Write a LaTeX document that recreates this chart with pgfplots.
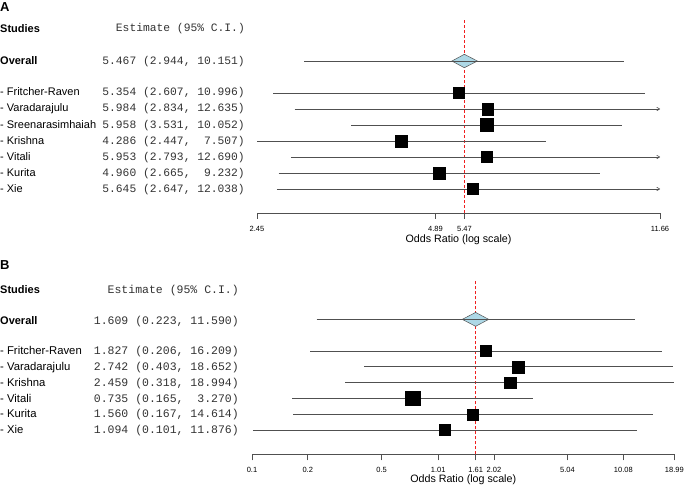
\documentclass[border=0pt]{standalone}
\usepackage{pgfplots}
\pgfplotsset{compat=1.18}
\usepackage{fontspec}
\setmainfont{Liberation Sans}
\newfontfamily\monofont{Liberation Mono}
\usetikzlibrary{arrows.meta}
\definecolor{cil}{RGB}{80,80,80}
\definecolor{diam}{RGB}{173,216,230}
\definecolor{txtgray}{RGB}{50,50,50}
\definecolor{refred}{RGB}{240,30,30}
\pgfplotsset{
  ci/.style={cil, line width=0.6pt, forget plot},
  ciarr/.style={cil, line width=0.6pt, forget plot, -{To[length=3.5pt,width=4pt]}},
  sq/.style={only marks, mark=square*, mark options={fill=black, draw=black, line width=0.3pt}, forget plot},
  refl/.style={draw=refred, color=refred, dash pattern=on 3pt off 2pt, line width=0.8pt, forget plot},
  forestaxis/.style={
    scale only axis, anchor=south west,
    axis x line*=bottom, axis y line=none,
    tick align=outside, major tick length=6pt, minor xtick={},
    xticklabel style={font=\fontsize{7.5}{8}\selectfont, yshift=-3.5pt},
    axis line style={cil, line width=0.6pt},
    x tick style={cil, line width=0.6pt},
    clip=false,
  },
}
\begin{document}
\begin{tikzpicture}[x=1pt,y=1pt]
\useasboundingbox (0,0) rectangle (685,486);

% ---------------- Panel A ----------------
\begin{semilogxaxis}[forestaxis,
  at={(257pt,273pt)}, width=403pt, height=195pt,
  xmin=2.45, xmax=11.66, ymin=-10.5, ymax=1.69,
  xtick={2.45,4.89,5.47,11.66},
  xticklabels={2.45,4.89,5.47,11.66},
]
\addplot[refl] coordinates {(5.467,-10.5) (5.467,1.69)};
\addplot[fill=diam, draw=cil, line width=0.5pt, forget plot] coordinates {(5.21,-1) (5.467,-0.58) (5.75,-1) (5.467,-1.42)} -- cycle;
\addplot[ci] coordinates {(2.944,-1) (10.151,-1)};
\addplot[ci] coordinates {(2.607,-3) (10.996,-3)};
\addplot[ciarr] coordinates {(2.834,-4) (11.66,-4)};
\addplot[ci] coordinates {(3.531,-5) (10.052,-5)};
\addplot[ci] coordinates {(2.45,-6) (7.507,-6)};
\addplot[ciarr] coordinates {(2.793,-7) (11.66,-7)};
\addplot[ci] coordinates {(2.665,-8) (9.232,-8)};
\addplot[ciarr] coordinates {(2.647,-9) (11.66,-9)};
\addplot[sq, mark size=5.5pt] coordinates {(5.354,-3)};
\addplot[sq, mark size=5.7pt] coordinates {(5.984,-4)};
\addplot[sq, mark size=6.4pt] coordinates {(5.958,-5)};
\addplot[sq, mark size=6.0pt] coordinates {(4.286,-6)};
\addplot[sq, mark size=5.5pt] coordinates {(5.953,-7)};
\addplot[sq, mark size=5.8pt] coordinates {(4.960,-8)};
\addplot[sq, mark size=5.5pt] coordinates {(5.645,-9)};
\end{semilogxaxis}

% ---------------- Panel B ----------------
\begin{semilogxaxis}[forestaxis,
  at={(252pt,31.7pt)}, width=422.3pt, height=174.9pt,
  xmin=0.1, xmax=18.99, ymin=-9.54, ymax=1.53,
  xtick={0.1,0.2,0.5,1.01,1.61,2.02,5.04,10.08,18.99},
  xticklabels={0.1,0.2,0.5,1.01,1.61,2.02,5.04,10.08,18.99},
]
\addplot[refl] coordinates {(1.609,-9.54) (1.609,1.53)};
\addplot[fill=diam, draw=cil, line width=0.5pt, forget plot] coordinates {(1.363,-1) (1.609,-0.56) (1.893,-1) (1.609,-1.44)} -- cycle;
\addplot[ci] coordinates {(0.223,-1) (11.590,-1)};
\addplot[ci] coordinates {(0.206,-3) (16.209,-3)};
\addplot[ci] coordinates {(0.403,-4) (18.652,-4)};
\addplot[ci] coordinates {(0.318,-5) (18.99,-5)};
\addplot[ci] coordinates {(0.165,-6) (3.270,-6)};
\addplot[ci] coordinates {(0.167,-7) (14.614,-7)};
\addplot[ci] coordinates {(0.101,-8) (11.876,-8)};
\addplot[sq, mark size=5.6pt] coordinates {(1.827,-3)};
\addplot[sq, mark size=5.9pt] coordinates {(2.742,-4)};
\addplot[sq, mark size=5.9pt] coordinates {(2.459,-5)};
\addplot[sq, mark size=7.1pt] coordinates {(0.735,-6)};
\addplot[sq, mark size=5.5pt] coordinates {(1.560,-7)};
\addplot[sq, mark size=5.6pt] coordinates {(1.094,-8)};
\end{semilogxaxis}

% ---------------- Text columns ----------------
\begin{scope}[every node/.style={inner sep=0pt}]
% Panel A
\node[anchor=base west, font=\fontsize{13}{13}\selectfont\bfseries] at (0,474) {A};
\node[anchor=base west, font=\fontsize{11}{11}\selectfont\bfseries] at (0,453.3) {Studies};
\node[anchor=base east, font=\fontsize{11.3}{11}\monofont, text=txtgray] at (245,454) {Estimate (95\% C.I.)};
\node[anchor=base west, font=\fontsize{11}{11}\selectfont\bfseries] at (0,421) {Overall};
\node[anchor=base east, font=\fontsize{11.3}{11}\monofont, text=txtgray] at (245,421) {5.467 (2.944, 10.151)};
\node[anchor=base west, font=\fontsize{11}{11}\selectfont] at (0,390) {- Fritcher-Raven};
\node[anchor=base east, font=\fontsize{11.3}{11}\monofont, text=txtgray] at (245,390) {5.354 (2.607, 10.996)};
\node[anchor=base west, font=\fontsize{11}{11}\selectfont] at (0,374) {- Varadarajulu};
\node[anchor=base east, font=\fontsize{11.3}{11}\monofont, text=txtgray] at (245,374) {5.984 (2.834, 12.635)};
\node[anchor=base west, font=\fontsize{11}{11}\selectfont] at (0,357) {- Sreenarasimhaiah};
\node[anchor=base east, font=\fontsize{11.3}{11}\monofont, text=txtgray] at (245,357) {5.958 (3.531, 10.052)};
\node[anchor=base west, font=\fontsize{11}{11}\selectfont] at (0,341) {- Krishna};
\node[anchor=base east, font=\fontsize{11.3}{11}\monofont, text=txtgray] at (245,341) {4.286 (2.447,\ \ 7.507)};
\node[anchor=base west, font=\fontsize{11}{11}\selectfont] at (0,325) {- Vitali};
\node[anchor=base east, font=\fontsize{11.3}{11}\monofont, text=txtgray] at (245,325) {5.953 (2.793, 12.690)};
\node[anchor=base west, font=\fontsize{11}{11}\selectfont] at (0,309) {- Kurita};
\node[anchor=base east, font=\fontsize{11.3}{11}\monofont, text=txtgray] at (245,309) {4.960 (2.665,\ \ 9.232)};
\node[anchor=base west, font=\fontsize{11}{11}\selectfont] at (0,293) {- Xie};
\node[anchor=base east, font=\fontsize{11.3}{11}\monofont, text=txtgray] at (245,293) {5.645 (2.647, 12.038)};
\node[anchor=center, font=\fontsize{10.7}{11}\selectfont] at (458.5,246) {Odds Ratio (log scale)};
% Panel B
\node[anchor=base west, font=\fontsize{13}{13}\selectfont\bfseries] at (0,216) {B};
\node[anchor=base west, font=\fontsize{11}{11}\selectfont\bfseries] at (0,192.7) {Studies};
\node[anchor=base east, font=\fontsize{11.5}{11}\monofont, text=txtgray] at (239,192.7) {Estimate (95\% C.I.)};
\node[anchor=base west, font=\fontsize{11}{11}\selectfont\bfseries] at (0,161.7) {Overall};
\node[anchor=base east, font=\fontsize{11.5}{11}\monofont, text=txtgray] at (239,161.7) {1.609 (0.223, 11.590)};
\node[anchor=base west, font=\fontsize{11.3}{11}\selectfont] at (0,131) {- Fritcher-Raven};
\node[anchor=base east, font=\fontsize{11.5}{11}\monofont, text=txtgray] at (239,131) {1.827 (0.206, 16.209)};
\node[anchor=base west, font=\fontsize{11.3}{11}\selectfont] at (0,115) {- Varadarajulu};
\node[anchor=base east, font=\fontsize{11.5}{11}\monofont, text=txtgray] at (239,115) {2.742 (0.403, 18.652)};
\node[anchor=base west, font=\fontsize{11.3}{11}\selectfont] at (0,99) {- Krishna};
\node[anchor=base east, font=\fontsize{11.5}{11}\monofont, text=txtgray] at (239,99) {2.459 (0.318, 18.994)};
\node[anchor=base west, font=\fontsize{11.3}{11}\selectfont] at (0,83) {- Vitali};
\node[anchor=base east, font=\fontsize{11.5}{11}\monofont, text=txtgray] at (239,83) {0.735 (0.165,\ \ 3.270)};
\node[anchor=base west, font=\fontsize{11.3}{11}\selectfont] at (0,68) {- Kurita};
\node[anchor=base east, font=\fontsize{11.5}{11}\monofont, text=txtgray] at (239,68) {1.560 (0.167, 14.614)};
\node[anchor=base west, font=\fontsize{11.3}{11}\selectfont] at (0,52) {- Xie};
\node[anchor=base east, font=\fontsize{11.5}{11}\monofont, text=txtgray] at (239,52) {1.094 (0.101, 11.876)};
\node[anchor=center, font=\fontsize{10.7}{11}\selectfont] at (463.2,6) {Odds Ratio (log scale)};
\end{scope}
\end{tikzpicture}
\end{document}
